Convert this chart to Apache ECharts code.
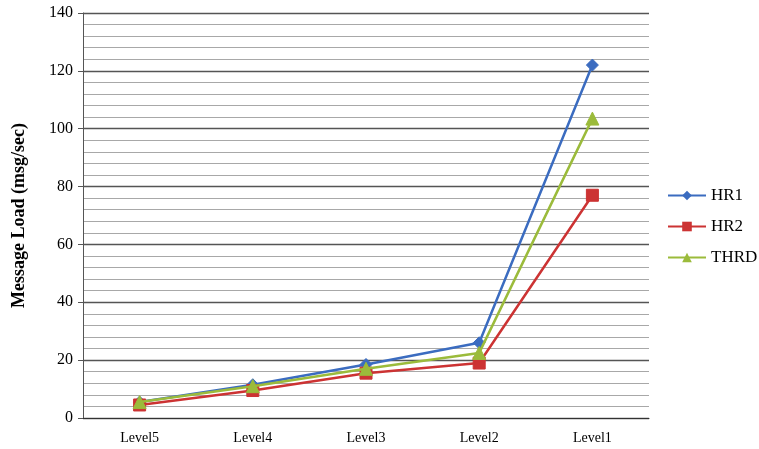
<!DOCTYPE html>
<html>
<head>
<meta charset="utf-8">
<script src="https://cdn.jsdelivr.net/npm/echarts@6/dist/echarts.min.js"></script>
<style>
html,body{margin:0;padding:0;background:#fff;}
#chart{width:759px;height:449px;}
</style>
</head>
<body>
<div id="chart"></div>
<script>
// Hierarchy levels along the x axis
const categories = ['Level5', 'Level4', 'Level3', 'Level2', 'Level1'];
// Message load per level (msg/sec)
const hr1 = [5.5, 11.5, 18.5, 26, 122];
const hr2 = [4.5, 9.5, 15.5, 19, 77];
const thrd = [5.5, 11, 17, 22.5, 103.5];
const seriesNames = ['HR1', 'HR2', 'THRD'];

const serif = '"Liberation Serif", "DejaVu Serif", serif';
const colors = ['#3b6cc0', '#cc3333', '#9bbb3b'];
const symbols = ['diamond', 'rect', 'triangle'];

const chart = echarts.init(document.getElementById('chart'));
chart.setOption({
  animation: false,
  backgroundColor: '#ffffff',
  grid: { left: 83, right: 110, top: 13, bottom: 31, containLabel: false },
  legend: {
    orient: 'vertical',
    left: 662,
    top: 182,
    itemGap: 14,
    itemWidth: 38,
    itemHeight: 12,
    textStyle: { fontFamily: serif, fontSize: 17, color: '#000' },
    data: seriesNames
  },
  xAxis: {
    type: 'category',
    data: categories,
    boundaryGap: true,
    axisLine: { lineStyle: { color: '#333', width: 1 } },
    axisTick: { show: false },
    axisLabel: { fontFamily: serif, fontSize: 14, color: '#000', margin: 13 }
  },
  yAxis: {
    type: 'value',
    min: 0,
    max: 140,
    interval: 20,
    name: 'Message Load (msg/sec)',
    nameLocation: 'middle',
    nameGap: 55,
    nameTextStyle: { fontFamily: serif, fontSize: 18, fontWeight: 'bold', color: '#000' },
    axisLine: { show: true, lineStyle: { color: '#555', width: 1 } },
    axisTick: { show: true, length: 5, lineStyle: { color: '#555' } },
    axisLabel: { fontFamily: serif, fontSize: 16, color: '#000', margin: 10 },
    splitLine: { show: true, lineStyle: { color: '#555', width: 1.3 } },
    minorTick: { show: false, splitNumber: 5 },
    minorSplitLine: { show: true, lineStyle: { color: '#a8a8a8', width: 1 } }
  },
  series: [hr1, hr2, thrd].map((d, i) => ({
    name: seriesNames[i],
    type: 'line',
    data: d,
    symbol: symbols[i],
    symbolSize: i === 2 ? 13 : 12,
    showAllSymbol: true,
    lineStyle: { color: colors[i], width: 2.5 },
    itemStyle: { color: colors[i], borderColor: colors[i] },
    z: 2 + i
  }))
});
</script>
</body>
</html>
